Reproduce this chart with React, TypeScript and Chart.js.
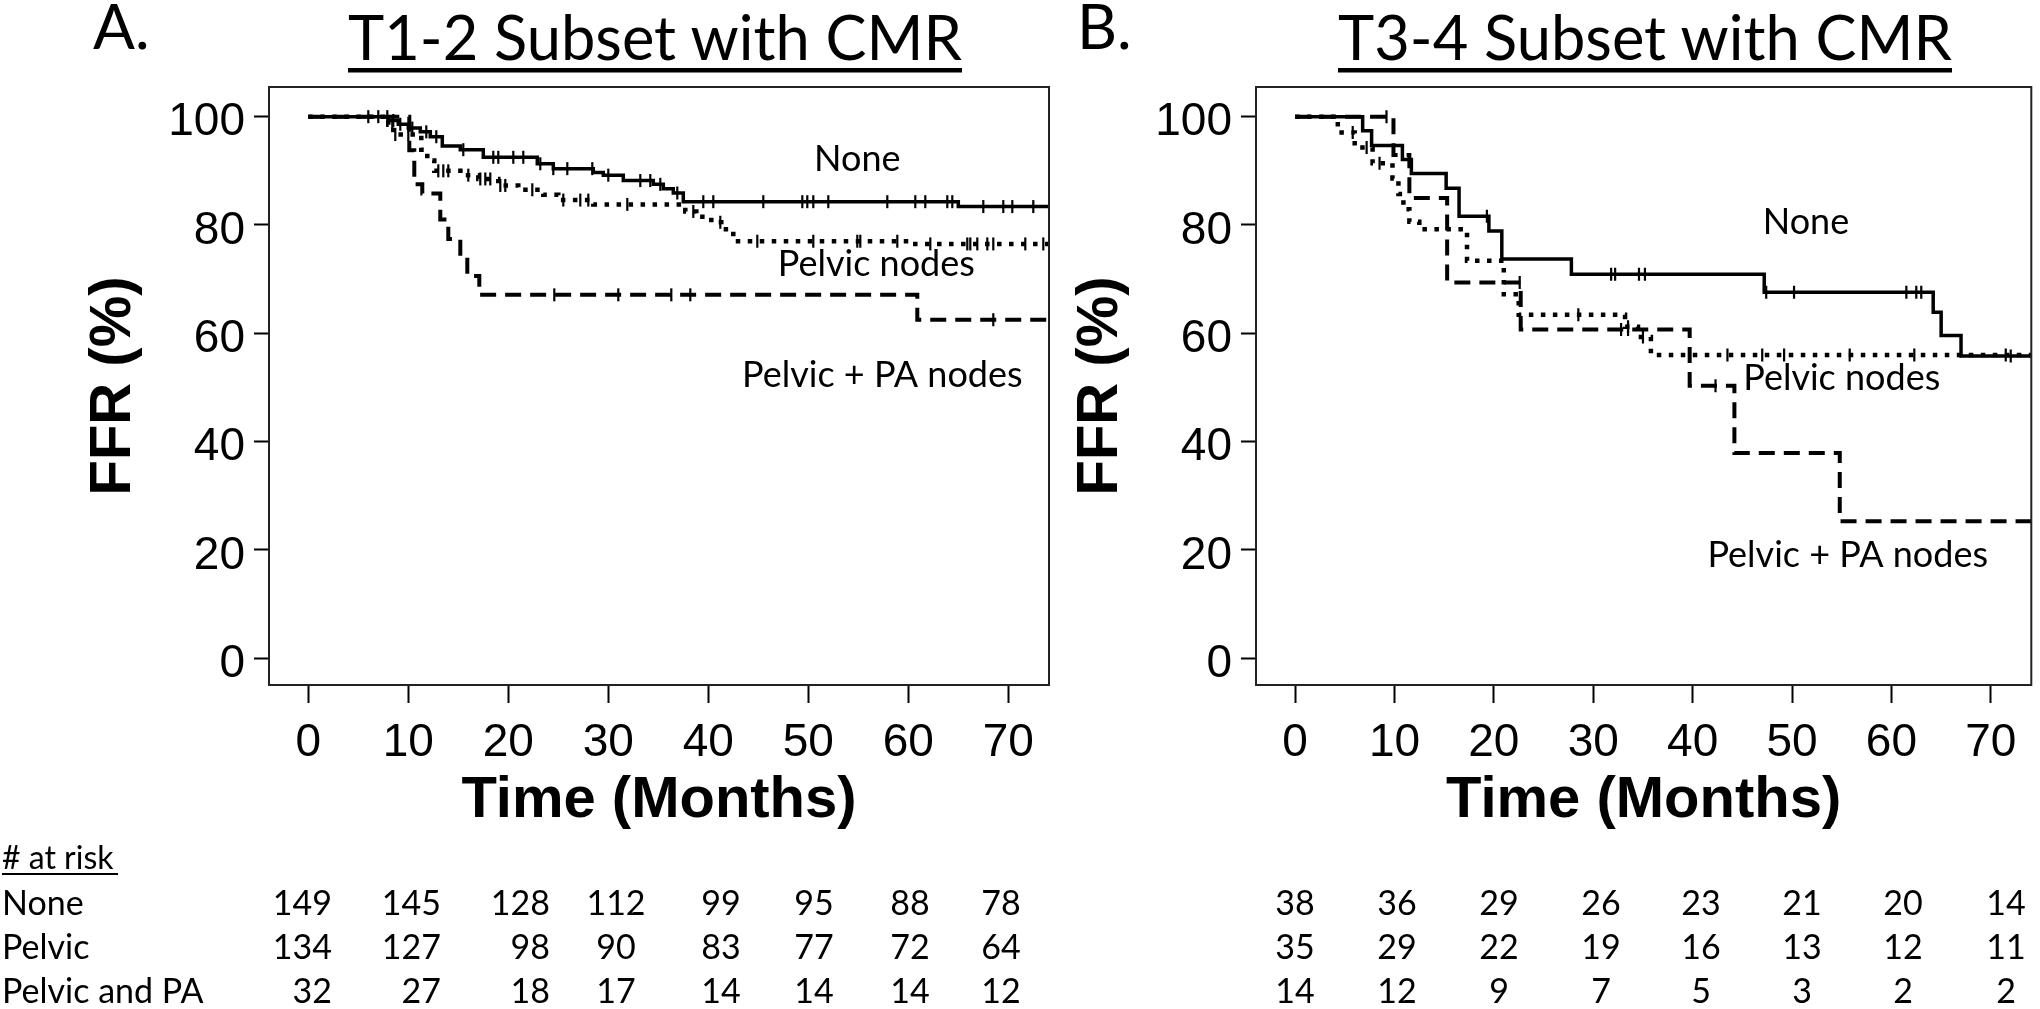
import React, { useEffect, useRef } from 'react';
import { Chart, registerables } from 'chart.js';

Chart.register(...registerables);

// ---------- shared axis values ----------
const X_TICKS = [0, 10, 20, 30, 40, 50, 60, 70];
const Y_TICKS = [0, 20, 40, 60, 80, 100];
const X_MIN = -3.93;
const X_MAX = 74.07;
const Y_MIN = -4.95;
const Y_MAX = 105.48;

const CURVE_LABELS = ['None', 'Pelvic nodes', 'Pelvic + PA nodes'];
const RISK_ROW_LABELS = ['None', 'Pelvic', 'Pelvic and PA'];

// ---------- Panel A: T1-2 subset ----------
const A_NONE_T = [0, 8.0, 9.0, 10.0, 11.2, 12.2, 13.4, 15.2, 17.5, 22.9, 24.5, 28.5, 29.5, 31.5, 34.5, 35.5, 36.5, 37.5, 65.0, 74.1];
const A_NONE_S = [100, 99.3, 98.6, 97.9, 97.2, 96.3, 94.6, 93.9, 92.5, 91.3, 90.4, 89.7, 89.2, 88.2, 87.5, 86.7, 85.9, 84.3, 83.4, 83.4];
const A_PELV_T = [0, 8.0, 8.5, 11.3, 11.9, 12.6, 15.5, 17.0, 19.0, 21.0, 23.5, 25.0, 28.5, 37.7, 38.8, 40.3, 41.3, 42.5, 60.0, 74.1];
const A_PELV_S = [100, 98.5, 96.7, 93.9, 91.9, 90.0, 89.2, 88.5, 87.3, 86.5, 85.6, 84.6, 83.8, 82.5, 81.5, 80.5, 79.2, 77.0, 76.5, 76.5];
const A_PA_T = [0, 10.1, 10.6, 11.4, 13.2, 14.0, 15.2, 15.9, 17.1, 60.9, 74.1];
const A_PA_S = [100, 93.8, 87.5, 85.8, 81.0, 77.4, 74.2, 70.6, 67.1, 62.5, 62.5];

const A_NONE_CENSOR = [6.0, 7.0, 7.9, 8.5, 9.2, 10.4, 11.8, 12.8, 15.5, 18.5, 19.0, 20.5, 21.5, 23.2, 24.5, 25.9, 28.4, 30.0, 33.2, 34.2, 35.2, 36.9, 39.5, 40.5, 45.5, 49.4, 49.9, 50.5, 52.0, 57.9, 60.7, 61.7, 63.9, 64.4, 67.5, 69.5, 70.4, 72.5];
const A_PELV_CENSOR = [8.4, 8.7, 10.0, 13.0, 13.5, 14.0, 16.0, 17.2, 17.7, 18.2, 19.2, 19.7, 22.4, 25.5, 27.2, 28.0, 31.9, 38.5, 41.2, 44.9, 50.5, 54.9, 55.2, 58.9, 62.2, 65.9, 66.2, 66.9, 67.9, 68.5, 71.7, 73.5];
const A_PA_CENSOR = [24.6, 31.0, 36.3, 38.2, 68.5];

const A_RISK_NONE = [149, 145, 128, 112, 99, 95, 88, 78];
const A_RISK_PELVIC = [134, 127, 98, 90, 83, 77, 72, 64];
const A_RISK_PA = [32, 27, 18, 17, 14, 14, 14, 12];

// ---------- Panel B: T3-4 subset ----------
const B_NONE_T = [0, 6.8, 7.7, 10.8, 11.7, 15.2, 16.5, 19.5, 20.8, 27.8, 47.2, 64.2, 65.0, 67.0, 74.1];
const B_NONE_S = [100, 97.4, 94.7, 92.1, 89.5, 86.8, 81.6, 78.9, 73.7, 70.9, 67.6, 63.9, 59.6, 55.8, 55.8];
const B_PELV_T = [0, 4.3, 6.0, 7.8, 9.8, 10.4, 10.9, 11.5, 12.5, 17.3, 21.0, 22.5, 33.2, 34.5, 35.8, 74.1];
const B_PELV_S = [100, 97.1, 94.3, 91.4, 88.6, 85.7, 82.9, 80.6, 79.2, 73.4, 67.2, 63.4, 61.2, 59.3, 56.0, 56.0];
const B_PA_T = [0, 9.9, 11.5, 15.3, 22.7, 39.7, 44.2, 54.8, 74.1];
const B_PA_S = [100, 92.9, 85.0, 69.4, 60.7, 50.3, 37.9, 25.3, 25.3];

const B_NONE_CENSOR = [19.3, 31.8, 32.2, 34.6, 35.2, 47.4, 50.2, 61.5, 62.5, 63.0, 72.0];
const B_PELV_CENSOR = [5.8, 7.2, 8.5, 28.5, 33.5, 35.0, 43.5, 47.0, 49.2, 55.8, 62.3, 71.5];
const B_PA_CENSOR = [9.2, 22.6, 32.8, 33.5, 42.3];

const B_RISK_NONE = [38, 36, 29, 26, 23, 21, 20, 14];
const B_RISK_PELVIC = [35, 29, 22, 19, 16, 13, 12, 11];
const B_RISK_PA = [14, 12, 9, 7, 5, 3, 2, 2];

// ---------- layout / style (not data) ----------
const CANVAS_H = 870;
const FONT_ARIAL = "'Liberation Sans', Arial, sans-serif";
const FONT_CAL = "Lato, 'Open Sans', sans-serif";

type Panel = {
  canvasLeft: number;
  canvasWidth: number;
  yAxisWidth: number;
  padRight: number;
  yTitlePad: number;
  curves: { T: number[]; S: number[]; C: number[] }[];
  labelPos: number[][];
};

const PANEL_A: Panel = {
  canvasLeft: 0,
  canvasWidth: 1060,
  yAxisWidth: 269,
  padRight: 11,
  yTitlePad: 79,
  curves: [
    { T: A_NONE_T, S: A_NONE_S, C: A_NONE_CENSOR },
    { T: A_PELV_T, S: A_PELV_S, C: A_PELV_CENSOR },
    { T: A_PA_T, S: A_PA_S, C: A_PA_CENSOR },
  ],
  labelPos: [[54.9, 92.1], [56.8, 72.8], [57.4, 52.3]],
};

const PANEL_B: Panel = {
  canvasLeft: 1060,
  canvasWidth: 980,
  yAxisWidth: 196,
  padRight: 4,
  yTitlePad: 6,
  curves: [
    { T: B_NONE_T, S: B_NONE_S, C: B_NONE_CENSOR },
    { T: B_PELV_T, S: B_PELV_S, C: B_PELV_CENSOR },
    { T: B_PA_T, S: B_PA_S, C: B_PA_CENSOR },
  ],
  labelPos: [[51.4, 80.4], [55.0, 51.7], [55.6, 19.0]],
};

const LINE_STYLES = [
  { dash: [] as number[], width: 3.5 },
  { dash: [4.5, 7.5], width: 4.5 },
  { dash: [16, 9], width: 4 },
];

function survAt(T: number[], S: number[], t: number) {
  let v = S[0];
  for (let i = 0; i < T.length; i++) if (T[i] <= t) v = S[i];
  return v;
}

function buildConfig(p: Panel): any {
  const datasets: any[] = [];
  p.curves.forEach((c, k) => {
    datasets.push({
      data: c.T.map((t, i) => ({ x: t, y: c.S[i] })),
      stepped: 'before',
      borderColor: '#000',
      borderWidth: LINE_STYLES[k].width,
      borderDash: LINE_STYLES[k].dash,
      borderCapStyle: 'butt',
      borderJoinStyle: 'miter',
      pointRadius: 0,
      pointHoverRadius: 0,
      fill: false,
      tension: 0,
    });
  });
  p.curves.forEach((c) => {
    datasets.push({
      data: c.C.map((t) => ({ x: t, y: survAt(c.T, c.S, t) })),
      showLine: false,
      pointStyle: 'line',
      pointRotation: 90,
      pointRadius: 6.5,
      pointHoverRadius: 6.5,
      pointBorderWidth: 2.2,
      pointBorderColor: '#000',
      borderColor: '#000',
      backgroundColor: '#000',
    });
  });

  const framePlugin = {
    id: 'frame',
    afterDatasetsDraw(chart: any) {
      const { ctx, chartArea } = chart;
      const { left, top, right, bottom } = chartArea;
      ctx.save();
      ctx.strokeStyle = '#222';
      ctx.lineWidth = 2;
      ctx.strokeRect(left, top, right - left, bottom - top);
      // curve labels placed in data coordinates
      const xs = chart.scales.x;
      const ys = chart.scales.y;
      ctx.fillStyle = '#000';
      ctx.font = `36px ${FONT_CAL}`;
      ctx.textAlign = 'center';
      ctx.textBaseline = 'middle';
      CURVE_LABELS.forEach((txt, i) => {
        const [t, v] = p.labelPos[i];
        ctx.fillText(txt, xs.getPixelForValue(t), ys.getPixelForValue(v));
      });
      ctx.restore();
    },
  };

  return {
    type: 'line',
    data: { datasets },
    plugins: [framePlugin],
    options: {
      animation: false,
      responsive: false,
      events: [],
      layout: { padding: { top: 87, right: p.padRight, left: 0, bottom: 0 } },
      plugins: { legend: { display: false }, tooltip: { enabled: false } },
      scales: {
        x: {
          type: 'linear',
          min: X_MIN,
          max: X_MAX,
          afterBuildTicks: (s: any) => {
            s.ticks = X_TICKS.map((v) => ({ value: v }));
          },
          afterFit: (s: any) => {
            s.height = CANVAS_H - 685;
          },
          border: { display: false },
          grid: {
            drawOnChartArea: false,
            drawTicks: true,
            tickLength: 18,
            tickColor: '#000',
            tickWidth: 2,
          },
          ticks: {
            color: '#000',
            font: { family: FONT_ARIAL, size: 46 },
            padding: 13,
            maxRotation: 0,
            autoSkip: false,
          },
          title: {
            display: true,
            text: 'Time (Months)',
            color: '#000',
            font: { family: FONT_ARIAL, size: 58, weight: 'bold' },
            padding: { top: 0, bottom: 34 },
          },
        },
        y: {
          type: 'linear',
          min: Y_MIN,
          max: Y_MAX,
          afterBuildTicks: (s: any) => {
            s.ticks = Y_TICKS.map((v) => ({ value: v }));
          },
          afterFit: (s: any) => {
            s.width = p.yAxisWidth;
          },
          border: { display: false },
          grid: {
            drawOnChartArea: false,
            drawTicks: true,
            tickLength: 15,
            tickColor: '#000',
            tickWidth: 2,
          },
          ticks: {
            color: '#000',
            font: { family: FONT_ARIAL, size: 46 },
            padding: 9,
            labelOffset: 6,
          },
          title: {
            display: true,
            text: 'FFR (%)',
            color: '#000',
            font: { family: FONT_ARIAL, size: 58, weight: 'bold' },
            padding: { top: p.yTitlePad, bottom: 0 },
          },
        },
      },
    },
  };
}

function KMPanel({ panel }: { panel: Panel }) {
  const ref = useRef<HTMLCanvasElement>(null);
  useEffect(() => {
    const chart = new Chart(ref.current as HTMLCanvasElement, buildConfig(panel));
    return () => chart.destroy();
  }, [panel]);
  return (
    <canvas
      ref={ref}
      width={panel.canvasWidth}
      height={CANVAS_H}
      style={{
        position: 'absolute',
        left: panel.canvasLeft,
        top: 0,
        width: panel.canvasWidth,
        height: CANVAS_H,
      }}
    />
  );
}

const A_COLS: [number, 'end' | 'middle'][] = [
  [332, 'end'], [441, 'end'], [550, 'end'], [616, 'middle'],
  [721, 'middle'], [814, 'middle'], [910, 'middle'], [1001, 'middle'],
];
const B_COLS: [number, 'end' | 'middle'][] = [
  [1295, 'middle'], [1397, 'middle'], [1499, 'middle'], [1601, 'middle'],
  [1701, 'middle'], [1802, 'middle'], [1903, 'middle'], [2006, 'middle'],
];
const ROW_BASELINES = [915, 959, 1003];

function Overlay() {
  const aRows = [A_RISK_NONE, A_RISK_PELVIC, A_RISK_PA];
  const bRows = [B_RISK_NONE, B_RISK_PELVIC, B_RISK_PA];
  return (
    <svg
      width={2040}
      height={1009}
      style={{ position: 'absolute', left: 0, top: 0, pointerEvents: 'none' }}
      fontFamily={FONT_CAL}
    >
      <text x={93} y={49} fontSize={62} fill="#000">A.</text>
      <text x={1077} y={49} fontSize={62} fill="#000">B.</text>
      <text x={348} y={60} fontSize={62} textLength={614} lengthAdjust="spacingAndGlyphs" fill="#000">
        T1-2 Subset with CMR
      </text>
      <rect x={348} y={68} width={614} height={4.5} fill="#000" />
      <text x={1338} y={60} fontSize={62} textLength={614} lengthAdjust="spacingAndGlyphs" fill="#000">
        T3-4 Subset with CMR
      </text>
      <rect x={1338} y={68} width={614} height={4.5} fill="#000" />

      <text x={2} y={869} fontSize={32} fill="#000">
        # at risk
      </text>
      <rect x={2} y={873} width={116} height={2} fill="#000" />
      {RISK_ROW_LABELS.map((lab, r) => (
        <text key={'l' + r} x={2} y={ROW_BASELINES[r]} fontSize={34} fill="#000">
          {lab}
        </text>
      ))}
      {aRows.map((row, r) =>
        row.map((n, c) => (
          <text key={`a${r}-${c}`} x={A_COLS[c][0]} y={ROW_BASELINES[r]} fontSize={34} textAnchor={A_COLS[c][1]} fill="#000">
            {n}
          </text>
        ))
      )}
      {bRows.map((row, r) =>
        row.map((n, c) => (
          <text key={`b${r}-${c}`} x={B_COLS[c][0]} y={ROW_BASELINES[r]} fontSize={34} textAnchor={B_COLS[c][1]} fill="#000">
            {n}
          </text>
        ))
      )}
    </svg>
  );
}

export default function App() {
  return (
    <div style={{ position: 'absolute', left: 0, top: 0, width: 2040, height: 1009, background: '#fff', overflow: 'hidden' }}>
      <KMPanel panel={PANEL_A} />
      <KMPanel panel={PANEL_B} />
      <Overlay />
    </div>
  );
}
